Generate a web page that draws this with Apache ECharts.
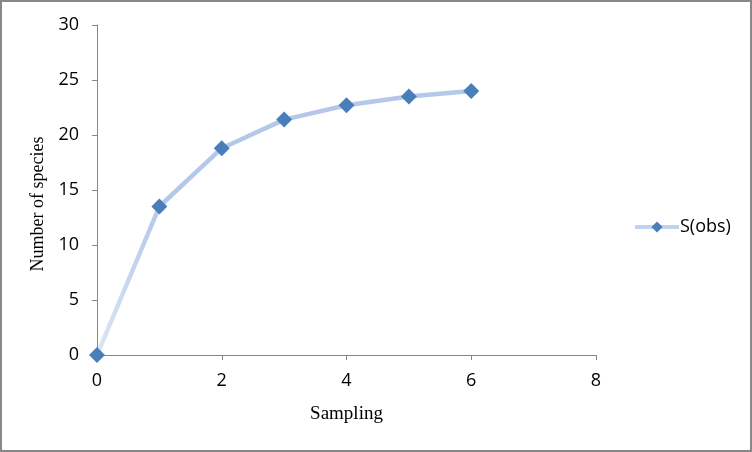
<!DOCTYPE html>
<html><head><meta charset="utf-8">
<script src="https://cdn.jsdelivr.net/npm/echarts@6/dist/echarts.min.js"></script>
<style>html,body{margin:0;padding:0;background:#fff}#c{width:752px;height:452px;box-sizing:border-box;border:2px solid #888}</style>
</head><body><div id="c"></div>
<script>
const sampling = [0, 1, 2, 3, 4, 5, 6];
const speciesObs = [0, 13.5, 18.8, 21.4, 22.7, 23.5, 24.0];
const seriesName = 'S(obs)';
const xTitle = 'Sampling';
const yTitle = 'Number of species';

const chart = echarts.init(document.getElementById('c'), null, {renderer: 'canvas'});
chart.setOption({
  animation: false,
  grid: {left: 95, top: 23, right: 154, bottom: 95, containLabel: false},
  xAxis: {
    type: 'value', min: 0, max: 8, interval: 2,
    name: xTitle, nameLocation: 'middle', nameGap: 50,
    nameTextStyle: {fontFamily: 'Liberation Serif', fontSize: 19, color: '#000'},
    axisLine: {show: true, onZero: false, lineStyle: {color: '#868686', width: 1}},
    axisTick: {show: true, inside: false, length: 5, lineStyle: {color: '#868686'}},
    axisLabel: {fontFamily: 'Open Sans', fontSize: 18, color: '#000', margin: 17},
    splitLine: {show: false}
  },
  yAxis: {
    type: 'value', min: 0, max: 30, interval: 5,
    name: yTitle, nameLocation: 'middle', nameGap: 50, nameRotate: 90,
    nameTextStyle: {fontFamily: 'Liberation Serif', fontSize: 18, color: '#000', padding: [0, 28, 0, 0]},
    axisLine: {show: true, lineStyle: {color: '#868686', width: 1}},
    axisTick: {show: true, inside: false, length: 5, lineStyle: {color: '#868686'}},
    axisLabel: {fontFamily: 'Open Sans', fontSize: 18, color: '#000', margin: 18},
    splitLine: {show: false}
  },
  legend: {
    show: true, orient: 'vertical', left: 626, top: 211,
    itemWidth: 44, itemHeight: 14, itemGap: 5,
    lineStyle: {width: 4, color: '#c2d3ee'},
    itemStyle: {color: '#4a7ebb'},
    textStyle: {fontFamily: 'Open Sans', fontSize: 18, color: '#000', padding: [0,0,0,-4]},
    data: [seriesName]
  },
  series: [{
    name: seriesName, type: 'line',
    data: sampling.map((x, i) => [x, speciesObs[i]]),
    symbol: 'diamond', symbolSize: 16,
    itemStyle: {color: '#4a7ebb'},
    lineStyle: {width: 4.5, color: new echarts.graphic.LinearGradient(0, 0, 1, 0, [
      {offset: 0, color: '#dde7f5'}, {offset: 0.17, color: '#b4c8ea'}, {offset: 1, color: '#b4c8ea'}])},
    z: 3
  }]
});
</script></body></html>
